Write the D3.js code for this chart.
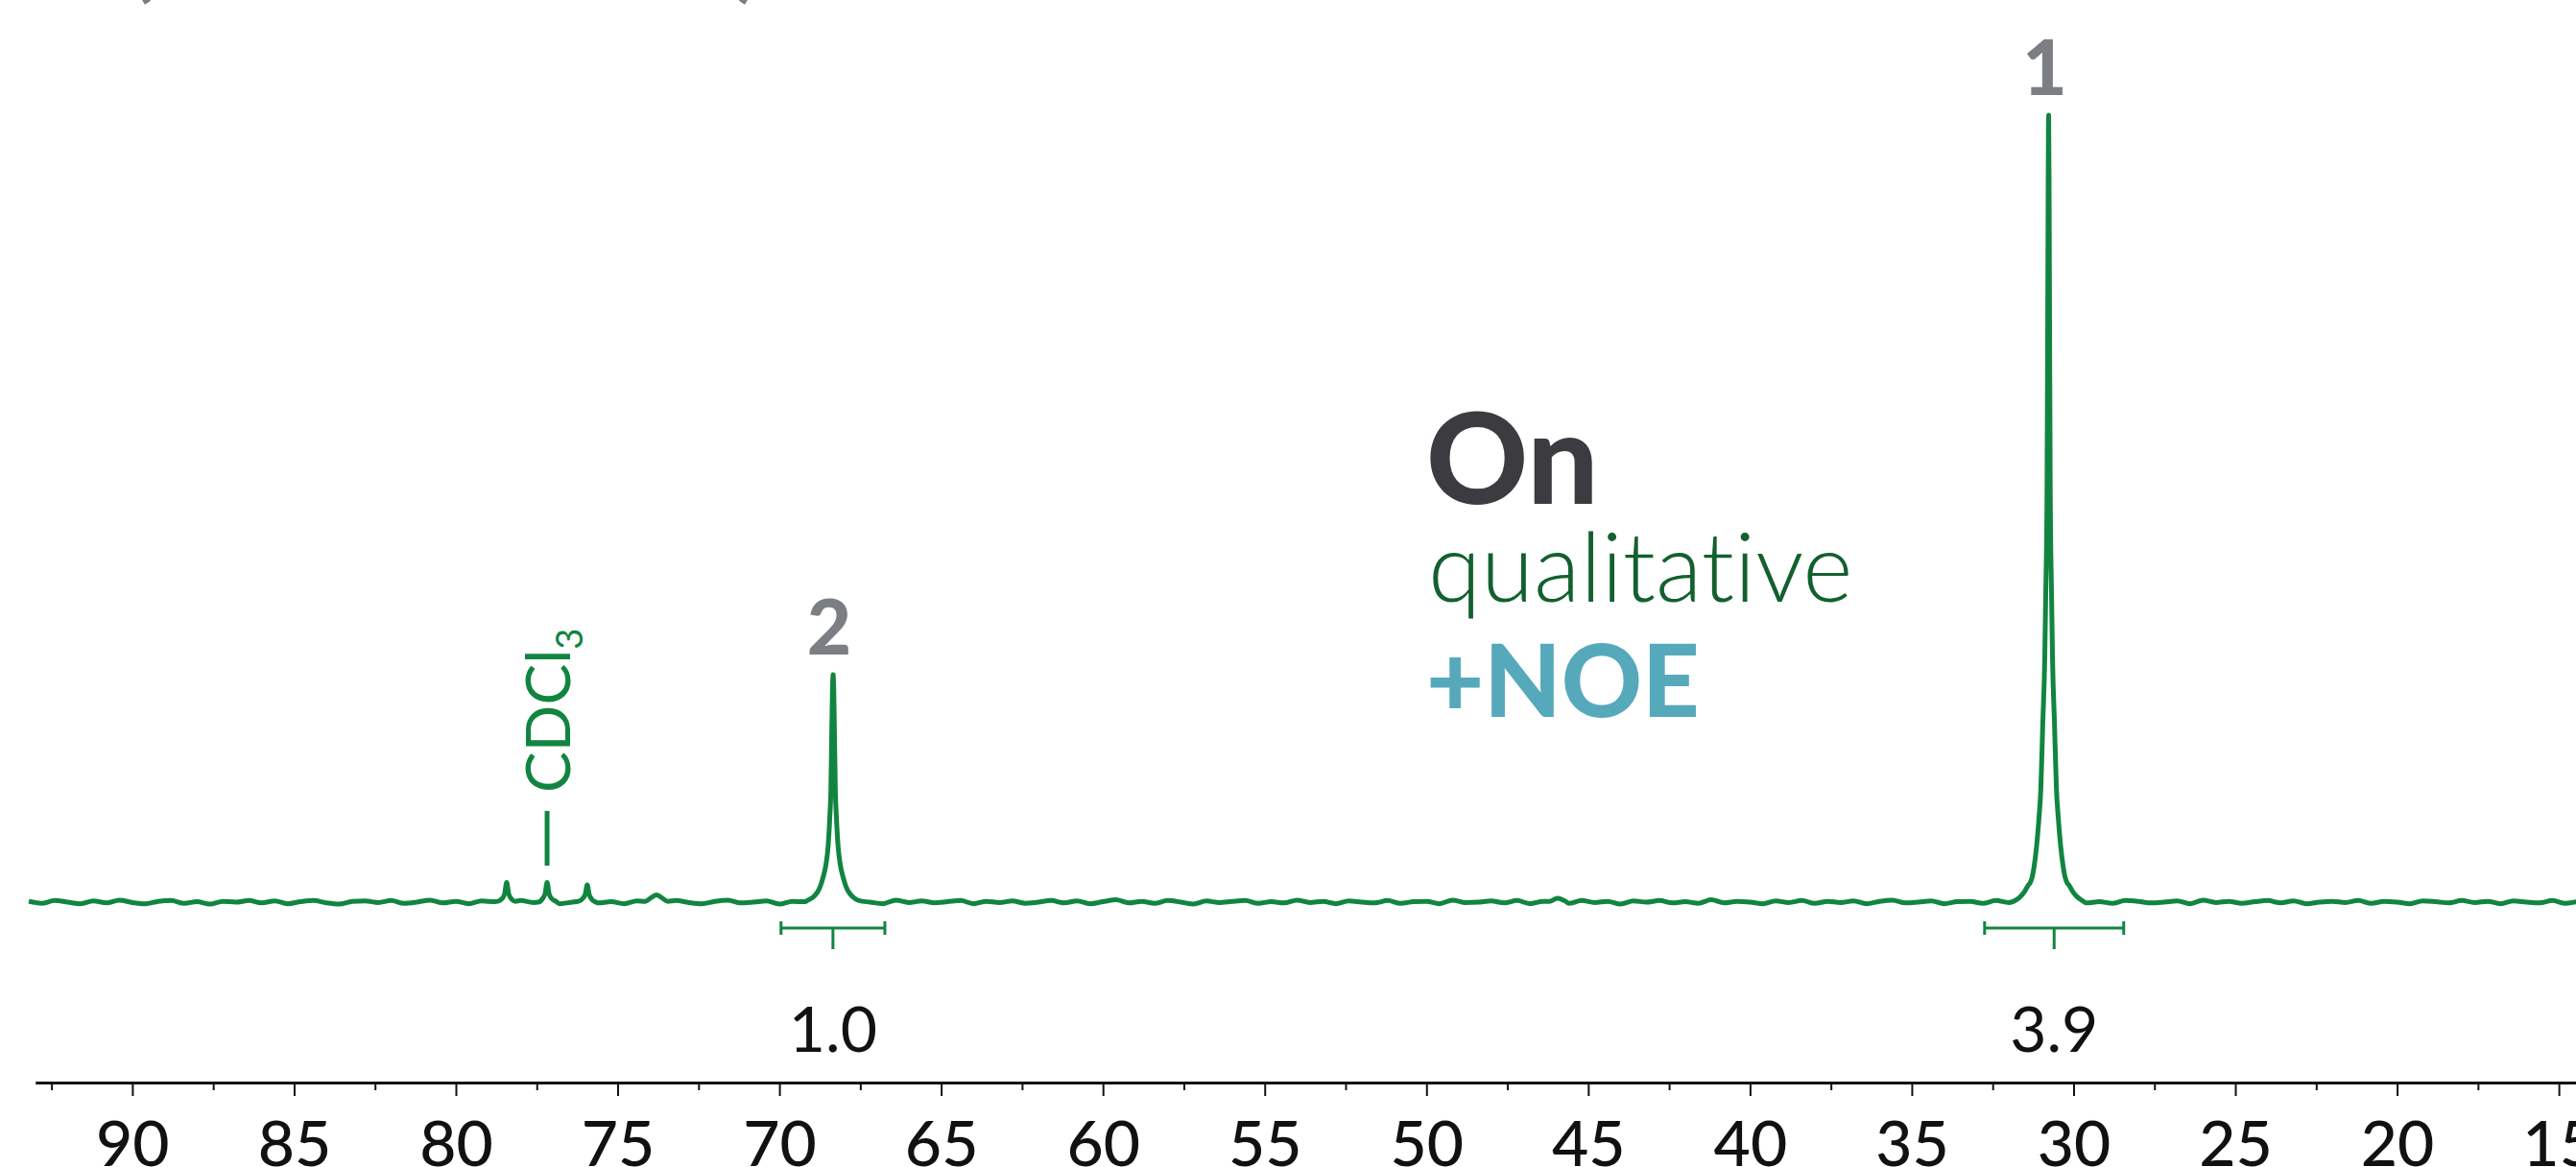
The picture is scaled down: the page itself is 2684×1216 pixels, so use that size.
<!DOCTYPE html>
<html><head><meta charset="utf-8">
<script src="https://cdn.jsdelivr.net/npm/d3@7"></script>
<style>html,body{margin:0;padding:0;background:#fff;overflow:hidden} text{font-variant-ligatures:none;font-feature-settings:"liga" 0,"clig" 0}</style>
</head><body>
<svg id="chart" width="2684" height="1216"></svg>
<script>
// ---------- DATA ----------
// baseline noise samples (intensity units), first at noiseStart ppm, one every noiseStep ppm
const noiseStart = 93.2, noiseStep = 0.4;
const baselineNoise = [
 0.1,-0.15,0.2,0.0,-0.2,0.15,-0.1,0.25,-0.05,-0.2,0.1,0.2,-0.15,0.05,-0.25,0.1,0.0,0.2,-0.1,0.15,
 -0.2,0.05,0.2,-0.1,-0.25,0.1,0.15,-0.05,0.2,-0.15,0.0,0.25,-0.1,0.1,-0.2,0.15,0.05,-0.15,0.2,-0.05,
 0.1,-0.2,0.0,0.3,-0.1,0.05,-0.2,0.15,0.1,-0.15,0.2,-0.05,-0.2,0.1,0.25,-0.1,0.0,0.15,-0.25,0.1,
 0.05,-0.1,0.2,-0.15,0.1,0.0,-0.2,0.25,-0.05,0.15,-0.1,0.05,0.2,-0.2,0.1,-0.05,0.15,-0.15,0.0,0.2,
 -0.1,0.15,-0.2,0.05,0.3,-0.1,0.1,-0.15,0.2,0.0,-0.25,0.15,-0.05,0.1,0.2,-0.15,0.05,-0.1,0.25,-0.05,
 0.1,-0.2,0.15,0.0,-0.1,0.2,-0.15,0.05,0.1,-0.2,0.25,-0.05,0.0,0.15,-0.1,0.2,-0.2,0.1,0.05,-0.15,
 0.2,-0.05,0.1,-0.25,0.15,0.0,0.2,-0.1,0.05,-0.15,0.3,-0.1,0.1,0.0,-0.2,0.15,-0.05,0.2,-0.15,0.1,
 -0.05,0.15,-0.2,0.1,0.25,-0.1,0.0,0.15,-0.2,0.05,0.1,-0.15,0.2,-0.05,0.1,-0.25,0.15,0.0,0.2,-0.1,
 0.05,-0.15,0.2,0.1,-0.1,0.0,0.15,-0.2,0.25,-0.05,0.1,-0.15,0.05,0.2,-0.1,0.15,-0.2,0.0,0.1,-0.05,
 0.2,-0.15,0.1,0.0,-0.2,0.15,0.05,-0.1,0.2,-0.05,0.1,-0.2,0.15,0.0,-0.1,0.2,-0.15,0.05,0.1
];
// peak profiles: [ppm, intensity]
const peak1Profile = [[31.77,0.3],[31.62,0.8],[31.49,1.5],[31.41,2.1],[31.35,2.4],[31.29,3.0],[31.22,4.5],[31.14,7.2],[31.07,10.6],[31.01,14.5],[30.95,22.8],[30.89,31],[30.86,39],[30.82,52],[30.80,72],[30.785,90],[30.77,100],[30.755,90],[30.74,72],[30.72,52],[30.68,39],[30.65,31],[30.59,22.8],[30.53,14.5],[30.47,10.6],[30.40,7.2],[30.32,4.5],[30.25,3.0],[30.19,2.4],[30.13,2.1],[30.05,1.5],[29.92,0.8],[29.77,0.3]];
const peak2Profile = [[69.14,0.2],[68.94,0.7],[68.79,1.5],[68.72,2.2],[68.64,3.3],[68.56,4.8],[68.49,7.3],[68.44,11],[68.41,14],[68.38,22],[68.36,27],[68.34,28.9],[68.32,27],[68.30,22],[68.27,14],[68.24,11],[68.19,7.3],[68.12,4.8],[68.04,3.3],[67.96,2.2],[67.89,1.5],[67.74,0.7],[67.54,0.2]];
const solventA = [[78.70,0.1],[78.56,0.5],[78.49,1.1],[78.43,2.5],[78.37,1.1],[78.30,0.5],[78.16,0.1]];
const solventB = [[77.45,0.0],[77.31,0.5],[77.24,1.1],[77.18,2.5],[77.12,1.1],[77.05,0.5],[76.91,0.1]];
const solventC = [[76.21,0.1],[76.07,0.5],[76.00,1.0],[75.94,2.2],[75.88,1.0],[75.81,0.4],[75.67,0.0]];
const bump1 = [[74.15,0.1],[73.95,0.6],[73.80,0.9],[73.65,0.6],[73.45,0.1]];
const bump2 = [[46.20,0.1],[45.95,0.5],[45.70,0.1]];

const peakLabels = ["1", "2"];
const peakLabelPpm = [30.77, 68.34];
const peakLabelHeight = [100, 28.9];

const integralFrom = [69.95, 32.75];
const integralTo = [66.74, 28.45];
const integralLabels = ["1.0", "3.9"];

const majorTicks = [90,85,80,75,70,65,60,55,50,45,40,35,30,25,20,15];
const minorTicks = [92.5,87.5,82.5,77.5,72.5,67.5,62.5,57.5,52.5,47.5,42.5,37.5,32.5,27.5,22.5,17.5];

const solventText = "CDCl", solventSub = "3", solventPpm = 77.18;
const legendTitle = "On", legendLine2 = "qualitative", legendLine3 = "+NOE";

// ---------- SCALES ----------
const W = 2684, H = 1216;
const svg = d3.select("#chart");
const x = d3.scaleLinear().domain([94.09, 14.47]).range([0, W]);
const y = d3.scaleLinear().domain([0, 100]).range([940, 120]);

const green = "#118540";
const FONT = "Lato, 'Open Sans', sans-serif";

// ---------- SPECTRUM ----------
const profiles = [peak1Profile, peak2Profile, solventA, solventB, solventC, bump1, bump2];
const ranges = profiles.map(p => [d3.min(p, d => d[0]), d3.max(p, d => d[0])]);
const basePts = baselineNoise.map((v, i) => [noiseStart - i * noiseStep, v])
  .filter(d => !ranges.some(r => d[0] >= r[0] - 0.05 && d[0] <= r[1] + 0.05));
const pts = basePts.concat(...profiles).sort((a, b) => b[0] - a[0]);

svg.append("path")
  .datum(pts)
  .attr("d", d3.line().x(d => x(d[0])).y(d => y(d[1])).curve(d3.curveMonotoneX))
  .attr("fill", "none").attr("stroke", green).attr("stroke-width", 5)
  .attr("stroke-linejoin", "round");

// ---------- PEAK LABELS ----------
svg.selectAll("text.plabel").data(peakLabels).join("text")
  .attr("class", "plabel")
  .attr("x", (d, i) => x(peakLabelPpm[i]) - 4)
  .attr("y", (d, i) => y(peakLabelHeight[i]) - 21)
  .attr("text-anchor", "middle")
  .attr("font-family", FONT).attr("font-weight", 900).attr("font-size", 80)
  .attr("fill", "#7b7e83")
  .text(d => d);

// ---------- INTEGRALS ----------
const ig = svg.append("g").attr("stroke", green).attr("stroke-width", 3).attr("fill", "none");
integralFrom.forEach((f, i) => {
  const x0 = x(f), x1 = x(integralTo[i]), xm = (x0 + x1) / 2;
  ig.append("line").attr("x1", x0).attr("x2", x1).attr("y1", 967).attr("y2", 967);
  ig.append("line").attr("x1", x0).attr("x2", x0).attr("y1", 960).attr("y2", 974);
  ig.append("line").attr("x1", x1).attr("x2", x1).attr("y1", 960).attr("y2", 974);
  ig.append("line").attr("x1", xm).attr("x2", xm).attr("y1", 967).attr("y2", 989);
});
svg.selectAll("text.ilabel").data(integralLabels).join("text")
  .attr("class", "ilabel")
  .attr("x", (d, i) => (x(integralFrom[i]) + x(integralTo[i])) / 2)
  .attr("y", 1096)
  .attr("text-anchor", "middle")
  .attr("font-family", FONT).attr("font-weight", 400).attr("font-size", 66)
  .attr("fill", "#111")
  .text(d => d);

// ---------- SOLVENT LABEL ----------
const sx = x(solventPpm);
svg.append("line").attr("x1", sx).attr("x2", sx).attr("y1", 845).attr("y2", 902)
  .attr("stroke", green).attr("stroke-width", 5);
const st = svg.append("text")
  .attr("transform", `translate(${sx + 24},826) rotate(-90)`)
  .attr("font-family", FONT).attr("font-weight", 400).attr("font-size", 64)
  .attr("fill", green);
st.append("tspan").text(solventText);
st.append("tspan").attr("font-size", 38).attr("dy", 13).text(solventSub);

// ---------- LEGEND TEXT ----------
svg.append("text").attr("x", 1486).attr("y", 525)
  .attr("font-family", FONT).attr("font-weight", 900).attr("font-size", 131)
  .attr("fill", "#3b3b40").text(legendTitle);
svg.append("text").attr("x", 1488).attr("y", 627)
  .attr("font-family", FONT).attr("font-weight", 300).attr("font-size", 100)
  .attr("fill", "#13602f").text(legendLine2);
svg.append("text").attr("x", 1486).attr("y", 747)
  .attr("font-family", FONT).attr("font-weight", 900).attr("font-size", 104)
  .attr("fill", "#56a9bb").text(legendLine3);

// cut-off title parentheses at the very top
svg.append("text").attr("x", 148).attr("y", -8).attr("text-anchor", "middle")
  .attr("font-family", FONT).attr("font-weight", 700).attr("font-size", 80)
  .attr("fill", "#7b7e83").text("(");
svg.append("text").attr("x", 779).attr("y", -8).attr("text-anchor", "middle")
  .attr("font-family", FONT).attr("font-weight", 700).attr("font-size", 80)
  .attr("fill", "#7b7e83").text(")");

// ---------- AXIS ----------
const axisY = 1128;
const xa = x.copy().domain([93, x.invert(W)]).range([x(93), W]);
const axMajor = svg.append("g").attr("transform", `translate(0,${axisY})`)
  .call(d3.axisBottom(xa).tickValues(majorTicks).tickSize(14).tickSizeOuter(0).tickPadding(60)
    .tickFormat(d3.format("d")));
axMajor.select(".domain").attr("stroke", "#111").attr("stroke-width", 3);
axMajor.selectAll(".tick line").attr("stroke", "#111").attr("stroke-width", 2);
axMajor.selectAll(".tick text").attr("font-family", FONT).attr("font-size", 66)
  .attr("font-weight", 500).attr("fill", "#111").attr("dy", 0).attr("y", 87);
const axMinor = svg.append("g").attr("transform", `translate(0,${axisY})`)
  .call(d3.axisBottom(xa).tickValues(minorTicks).tickSize(8).tickSizeOuter(0).tickFormat(""));
axMinor.select(".domain").remove();
axMinor.selectAll(".tick line").attr("stroke", "#111").attr("stroke-width", 2);
</script>
</body></html>
